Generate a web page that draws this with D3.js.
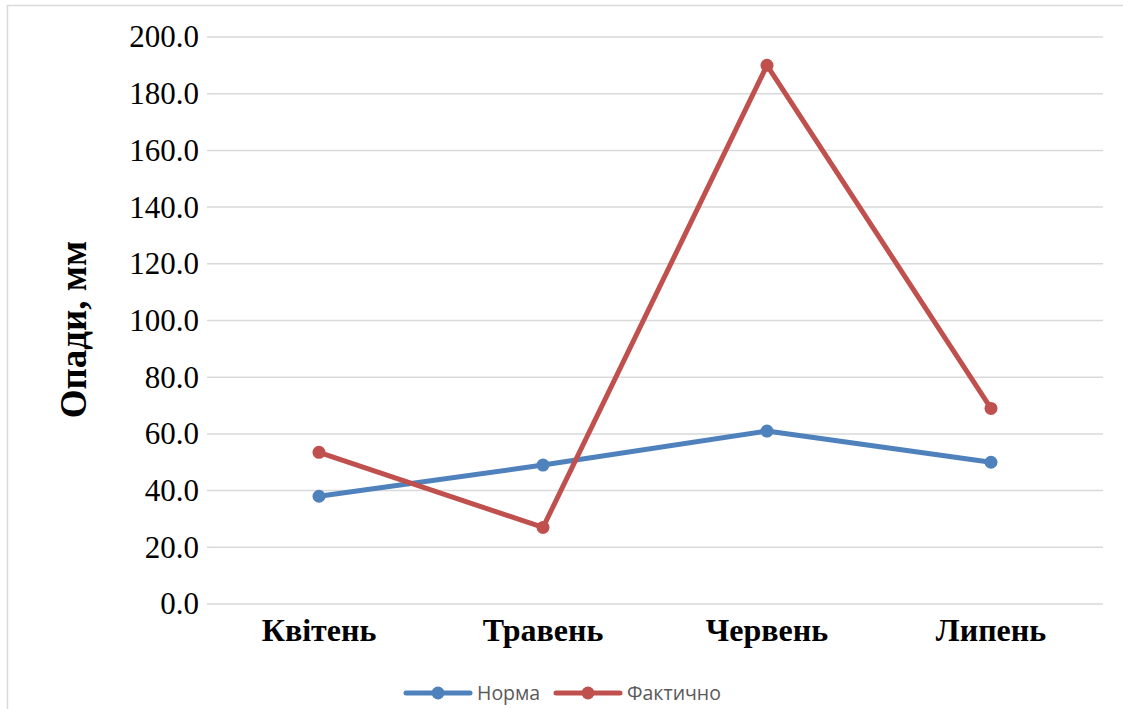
<!DOCTYPE html>
<html>
<head>
<meta charset="utf-8">
<script src="https://cdn.jsdelivr.net/npm/d3@7/dist/d3.min.js"></script>
<style>
  html, body { margin: 0; padding: 0; background: #fff; }
  svg { display: block; }
</style>
</head>
<body>
<svg id="chart" width="1123" height="709"></svg>
<script>
// Monthly precipitation: long-term norm vs. actual
const months = ["Квітень", "Травень", "Червень", "Липень"];
const normValues = [38.0, 49.0, 61.0, 50.0];
const actualValues = [53.5, 27.0, 190.0, 69.0];
const seriesNames = ["Норма", "Фактично"];
const yTicks = [0, 20, 40, 60, 80, 100, 120, 140, 160, 180, 200];

const colors = ["#4F81BD", "#C0504D"];
const series = [normValues, actualValues];

const svg = d3.select("#chart");
const W = 1123, H = 709;
const plot = { left: 207, right: 1103, top: 37, bottom: 604 };
const serif = "'Liberation Serif', 'Times New Roman', serif";

// outer chart frame
svg.append("rect")
  .attr("x", 7.5).attr("y", 5.5)
  .attr("width", W + 10).attr("height", H + 10)
  .attr("fill", "#fff").attr("stroke", "#d9d9d9").attr("stroke-width", 1.5);

const x = d3.scaleBand().domain(months).range([plot.left, plot.right]);
const y = d3.scaleLinear().domain([0, 200]).range([plot.bottom, plot.top]);

// horizontal gridlines
svg.append("g")
  .selectAll("line")
  .data(yTicks)
  .join("line")
  .attr("x1", plot.left).attr("x2", plot.right)
  .attr("y1", d => y(d)).attr("y2", d => y(d))
  .attr("stroke", "#d9d9d9").attr("stroke-width", 1.5);

// y axis labels
const yAxis = d3.axisLeft(y).tickValues(yTicks).tickFormat(d3.format(".1f")).tickSize(0).tickPadding(8);
const gy = svg.append("g").attr("transform", `translate(${plot.left},0)`).call(yAxis);
gy.select(".domain").remove();
gy.selectAll("text")
  .attr("font-family", serif)
  .attr("font-size", 31).attr("fill", "#000");

// x axis labels
const xAxis = d3.axisBottom(x).tickSize(0).tickPadding(0);
const gx = svg.append("g").attr("transform", `translate(0,${plot.bottom})`).call(xAxis);
gx.select(".domain").remove();
gx.selectAll("text")
  .attr("y", 37).attr("dy", null)
  .attr("font-family", serif)
  .attr("font-size", 32).attr("font-weight", "bold").attr("fill", "#000");

// y axis title
svg.append("text")
  .attr("transform", `translate(86,${(plot.top + plot.bottom) / 2 + 9}) rotate(-90)`)
  .attr("text-anchor", "middle")
  .attr("font-family", serif)
  .attr("font-size", 37).attr("font-weight", "bold").attr("fill", "#000")
  .text("Опади, мм");

// series lines and markers
const cx = d => x(d) + x.bandwidth() / 2;
const line = d3.line().x((d, i) => cx(months[i])).y(d => y(d));

series.forEach((vals, s) => {
  const g = svg.append("g");
  g.append("path")
    .datum(vals)
    .attr("d", line)
    .attr("fill", "none")
    .attr("stroke", colors[s]).attr("stroke-width", 5)
    .attr("stroke-linejoin", "round").attr("stroke-linecap", "round");
  g.selectAll("circle")
    .data(vals)
    .join("circle")
    .attr("cx", (d, i) => cx(months[i]))
    .attr("cy", d => y(d))
    .attr("r", 6.5)
    .attr("fill", colors[s]);
});

// legend
const legend = svg.append("g").attr("transform", "translate(0,693)");
const legendX = [406, 556];
seriesNames.forEach((name, i) => {
  const lg = legend.append("g").attr("transform", `translate(${legendX[i]},0)`);
  lg.append("line").attr("x1", 0).attr("x2", 64).attr("y1", 0).attr("y2", 0)
    .attr("stroke", colors[i]).attr("stroke-width", 5).attr("stroke-linecap", "round");
  lg.append("circle").attr("cx", 32).attr("cy", 0).attr("r", 6.5).attr("fill", colors[i]);
  lg.append("text").attr("x", 71).attr("y", 0).attr("dy", "0.35em")
    .attr("font-family", "'Open Sans', 'Liberation Sans', sans-serif")
    .attr("font-size", 19.5).attr("fill", "#595959")
    .text(name);
});
</script>
</body>
</html>
